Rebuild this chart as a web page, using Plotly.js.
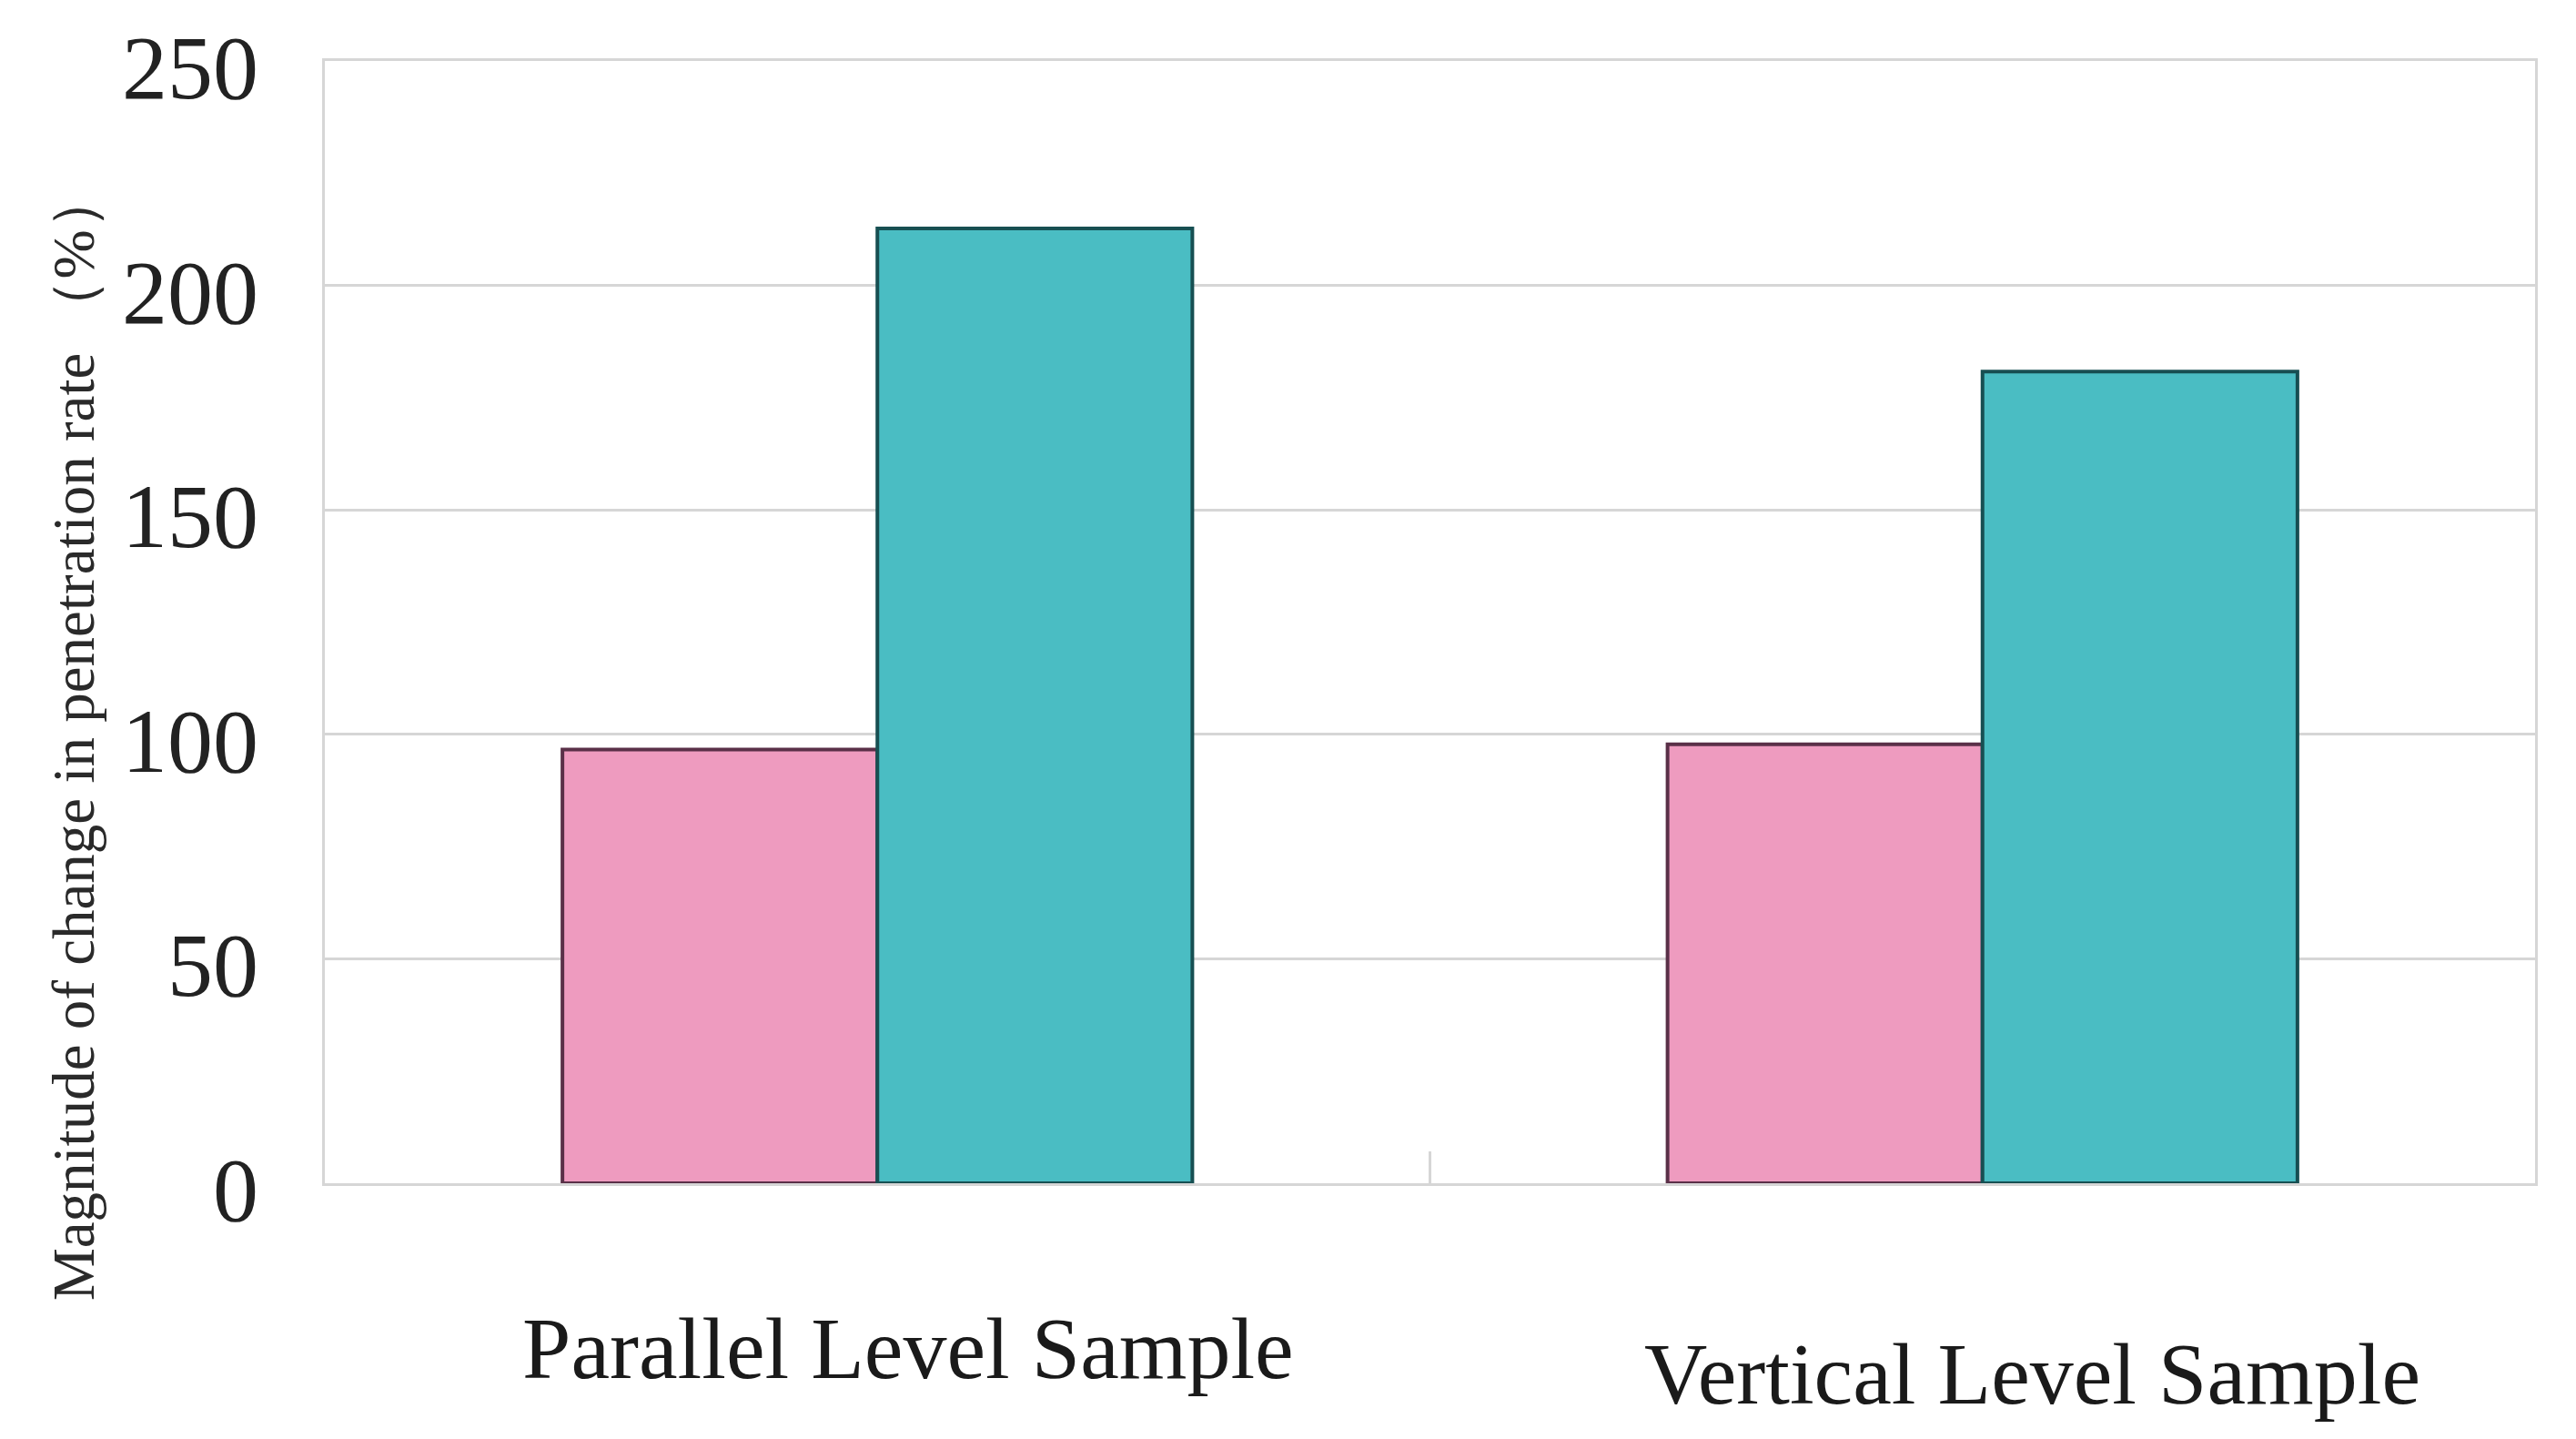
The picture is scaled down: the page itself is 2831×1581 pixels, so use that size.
<!DOCTYPE html>
<html>
<head>
<meta charset="utf-8">
<script src="https://cdn.plot.ly/plotly-3.0.1.min.js"></script>
<style>
  html, body { margin: 0; padding: 0; background: #fff; }
  #chart { width: 2831px; height: 1581px; }
</style>
</head>
<body>
<div id="chart"></div>
<script>

// categories and the two series
var categories = ['Parallel Level Sample', 'Vertical Level Sample'];
var seriesA = [96.6, 97.8];
var seriesB = [212.7, 180.8];

// small sideways / downward nudges of the category captions
var labelShift = [34, 55];
var labelY = [-0.147, -0.170];

var yTicks = [0, 50, 100, 150, 200, 250];
var yTitle = 'Magnitude of change in penetration rate （%）';

var serif = '"Liberation Serif", "Times New Roman", serif';
var grid = '#d6d6d6';

var traces = [{
	x: categories,
	y: seriesA,
	type: 'bar',
	marker: { color: '#ee9bbf', line: { color: '#5a3048', width: 4 } },
	hoverinfo: 'skip'
}, {
	x: categories,
	y: seriesB,
	type: 'bar',
	marker: { color: '#4abdc3', line: { color: '#174f52', width: 4 } },
	hoverinfo: 'skip'
}];

var notes = [];
for (var i = 0; i < categories.length; i++) {
	notes.push({
		x: categories[i], xref: 'x', xshift: labelShift[i],
		y: labelY[i], yref: 'paper',
		text: categories[i], showarrow: false,
		xanchor: 'center', yanchor: 'middle',
		font: { family: serif, size: 96, color: '#1a1a1a' }
	});
}
notes.push({
	x: -0.1136, xref: 'paper',
	y: 0.399, yref: 'paper',
	text: yTitle, textangle: -90, showarrow: false,
	xanchor: 'center', yanchor: 'middle',
	font: { family: serif, size: 65, color: '#2a2a2a' }
});

var layout = {
	width: 2831, height: 1581,
	margin: { l: 357, r: 45, t: 67, b: 281 },
	paper_bgcolor: '#fff',
	plot_bgcolor: '#fff',
	showlegend: false,
	barmode: 'group',
	bargap: 0.43,
	bargroupgap: 0,
	xaxis: {
		type: 'category',
		showticklabels: false,
		showgrid: false,
		zeroline: false,
		showline: true, mirror: true,
		linecolor: grid, linewidth: 3,
		ticks: 'inside', tickson: 'boundaries',
		ticklen: 35, tickwidth: 3, tickcolor: grid
	},
	yaxis: {
		range: [0, 250],
		tickvals: yTicks,
		ticktext: yTicks.map(String),
		showgrid: true, gridcolor: grid, gridwidth: 3,
		zeroline: false,
		showline: true, mirror: true,
		linecolor: grid, linewidth: 3,
		ticks: '',
		ticklabelstandoff: 50,
		ticklabelshift: 6,
		tickfont: { family: serif, size: 100, color: '#222' }
	},
	annotations: notes
};

Plotly.newPlot('chart', traces, layout, { displayModeBar: false, staticPlot: true });
</script>
</body>
</html>
